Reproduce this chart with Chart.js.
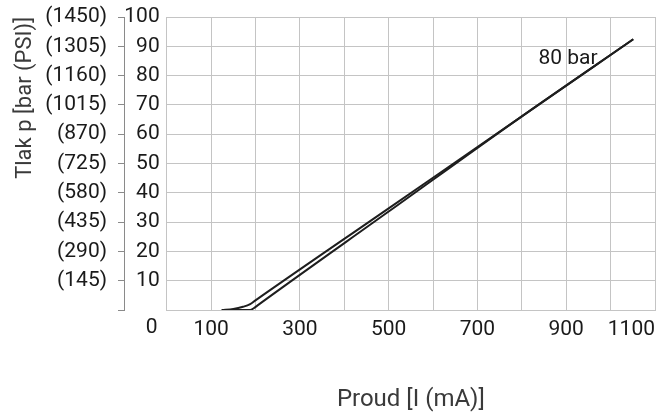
<!DOCTYPE html>
<html>
<head>
<meta charset="utf-8">
<script src="https://cdn.jsdelivr.net/npm/chart.js@4.4.0/dist/chart.umd.min.js"></script>
<style>
  body { margin: 0; background: #fff; }
  #wrap { width: 657px; height: 412px; }
</style>
</head>
<body>
<div id="wrap"><canvas id="myChart"></canvas></div>
<script>
// current [mA] / pressure [bar]
var currentUp = [124, 150, 172, 188, 200, 500, 800, 1051];
var pressureUp = [0, 0.35, 1.1, 2.0, 3.3, 34.7, 66.1, 92.4];
var currentLow = [124, 188, 196, 204, 500, 800, 1051];
var pressureLow = [0, 0, 0.6, 1.5, 33.6, 66.1, 92.4];

var barTicks = [0, 10, 20, 30, 40, 50, 60, 70, 80, 90, 100];
var psiLabels = ['', '(145)', '(290)', '(435)', '(580)', '(725)', '(870)', '(1015)', '(1160)', '(1305)', '(1450)'];
var xLabels = [100, 300, 500, 700, 900, 1100];
var cornerLabel = '0';
var curveLabel = '80 bar';
var curveLabelAt = [904, 85.7];

var tickFont = { family: "Roboto, sans-serif", size: 21 };
var titleFont = { family: "Roboto, 'Liberation Sans', sans-serif", size: 24 };

function pts(xs, ys) {
  var out = [];
  for (var i = 0; i < xs.length; i++) out.push({ x: xs[i], y: ys[i] });
  return out;
}

// no extra room for the end labels, the layout padding decides
function noPad(s) {
  s.paddingTop = 0; s.paddingBottom = 0; s.paddingLeft = 0; s.paddingRight = 0;
}

const extraText = {
  id: 'extraText',
  afterDraw(chart) {
    const c = chart.ctx;
    const xs = chart.scales.x, ys = chart.scales.y;
    c.save();
    c.fillStyle = '#1a1a1a';
    c.font = tickFont.size + 'px ' + tickFont.family;
    c.textBaseline = 'middle';
    c.textAlign = 'center';
    c.fillText(cornerLabel, xs.getPixelForValue(0) - 15, ys.bottom + 18);
    c.fillText(curveLabel, xs.getPixelForValue(curveLabelAt[0]), ys.getPixelForValue(curveLabelAt[1]));
    c.restore();
  }
};

const ctx = document.getElementById('myChart').getContext('2d');
const myChart = new Chart(ctx, {
    type: 'line',
    data: {
        datasets: [{
            data: pts(currentUp, pressureUp),
            borderColor: '#1e1e1e',
            borderWidth: 2,
            pointRadius: 0,
            cubicInterpolationMode: 'monotone'
        }, {
            data: pts(currentLow, pressureLow),
            borderColor: '#1e1e1e',
            borderWidth: 2,
            pointRadius: 0,
            cubicInterpolationMode: 'monotone'
        }]
    },
    options: {
        responsive: true,
        maintainAspectRatio: false,
        animation: false,
        layout: { padding: { top: 17, right: 2, left: 0, bottom: 0 } },
        plugins: { legend: { display: false }, tooltip: { enabled: false } },
        scales: {
            x: {
                type: 'linear',
                min: 0,
                max: 1100,
                grid: { color: '#c4c4c4', drawTicks: false },
                border: { color: '#c4c4c4' },
                ticks: {
                    stepSize: 100,
                    padding: 7,
                    align: 'inner',
                    maxRotation: 0,
                    autoSkip: false,
                    color: '#1a1a1a',
                    font: tickFont,
                    callback: function (v) { return xLabels.indexOf(v) >= 0 ? String(v) : ''; }
                },
                title: {
                    display: true,
                    text: 'Proud [I (mA)]',
                    color: '#3a3a3a',
                    font: titleFont,
                    padding: { top: 36, bottom: -2 }
                },
                afterFit: noPad
            },
            y: {
                position: 'left',
                weight: 0,
                min: 0,
                max: 100,
                afterBuildTicks: function (s) { s.ticks = barTicks.map(function (v) { return { value: v }; }); },
                grid: { color: '#c4c4c4', drawTicks: false },
                border: { display: false },
                ticks: {
                    padding: 7,
                    color: '#1a1a1a',
                    font: tickFont,
                    callback: function (v) { return v === 0 ? '' : String(v); }
                },
                afterFit: function (s) { noPad(s); s.width = 42.7; }
            },
            psi: {
                position: 'left',
                weight: 1,
                min: 0,
                max: 100,
                afterBuildTicks: function (s) { s.ticks = barTicks.map(function (v) { return { value: v }; }); },
                grid: { drawOnChartArea: false, drawTicks: true, tickLength: 6, color: '#8a8a8a' },
                border: { display: true, color: '#8a8a8a' },
                ticks: {
                    padding: 11,
                    color: '#1a1a1a',
                    font: tickFont,
                    callback: function (v, i) { return psiLabels[i]; }
                },
                title: {
                    display: true,
                    text: 'Tlak p [bar (PSI)]',
                    align: 'end',
                    color: '#3a3a3a',
                    font: { family: titleFont.family, size: 22 },
                    padding: { top: 12, bottom: 0 }
                },
                afterFit: function (s) { noPad(s); s.width = 124; }
            }
        }
    },
    plugins: [extraText]
});
</script>
</body>
</html>
